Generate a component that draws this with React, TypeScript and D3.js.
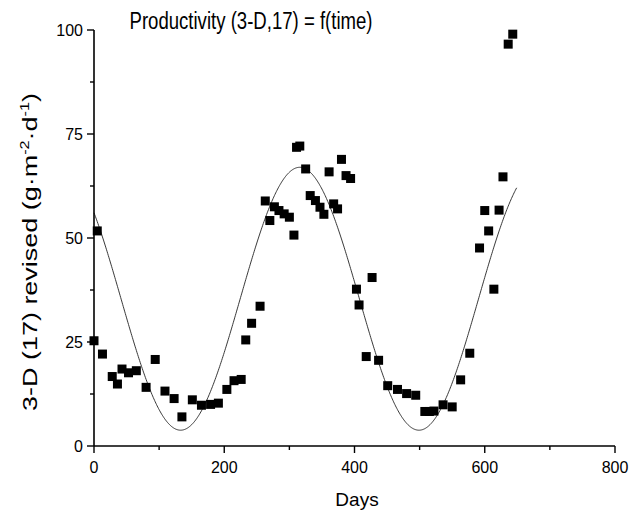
import React from "react";
import * as d3 from "d3";

const days = [0, 5, 13, 28, 36, 43, 53, 65, 80, 94, 109, 123, 135, 151, 165, 179, 191, 204, 215, 226, 233, 242, 255, 263, 270, 277, 284, 292, 300, 307, 311, 316, 325, 332, 340, 347, 353, 361, 368, 374, 380, 387, 394, 403, 407, 418, 427, 437, 451, 466, 480, 494, 508, 515, 522, 536, 550, 563, 577, 592, 600, 606, 614, 622, 628, 636, 643];
const values = [25.3, 51.7, 22.1, 16.7, 14.9, 18.5, 17.6, 18.1, 14.1, 20.8, 13.2, 11.4, 7.0, 11.1, 9.8, 10.0, 10.3, 13.6, 15.7, 16.0, 25.5, 29.5, 33.6, 58.9, 54.2, 57.5, 56.6, 55.8, 55.0, 50.7, 71.8, 72.1, 66.6, 60.2, 59.0, 57.4, 55.7, 65.9, 58.2, 57.0, 68.9, 65.0, 64.3, 37.7, 33.9, 21.5, 40.5, 20.6, 14.5, 13.6, 12.6, 12.2, 8.3, 8.3, 8.4, 9.9, 9.4, 15.9, 22.3, 47.6, 56.6, 51.7, 37.7, 56.7, 64.7, 96.6, 99.0];

// sinusoidal fit f(time), parameters
const FIT_MEAN = 35.4;
const FIT_AMP = 31.6;
const FIT_PERIOD = 366;
const FIT_PEAK_DAY = 316;
const FIT_START = 0;
const FIT_END = 649;

const xTicks = [0, 200, 400, 600, 800];
const xMinorTicks = [100, 300, 500, 700];
const yTicks = [0, 25, 50, 75, 100];
const yMinorTicks = [12.5, 37.5, 62.5, 87.5];

const TITLE = "Productivity (3-D,17) = f(time)";
const X_LABEL = "Days";

export default function App() {
  const W = 641, H = 513;
  const x = d3.scaleLinear().domain([0, 800]).range([94, 615]);
  const y = d3.scaleLinear().domain([0, 100]).range([446, 30]);
  const font = "'Liberation Sans', Arial, Helvetica, sans-serif";

  const fitDays = d3.range(FIT_START, FIT_END + 0.5, 1);
  const fitLine = d3
    .line<number>()
    .x((d) => x(d))
    .y((d) => y(FIT_MEAN + FIT_AMP * Math.cos((2 * Math.PI * (d - FIT_PEAK_DAY)) / FIT_PERIOD)));

  const pts = days.map((d, i) => ({ d, v: values[i] }));
  const S = 9;

  return (
    <svg width={W} height={H} style={{ position: "absolute", left: 0, top: 0, background: "#fff" }} fontFamily={font}>
      <rect x={0} y={0} width={W} height={H} fill="#fff" />
      <text x={251} y={29} fontSize={23} textAnchor="middle" fill="#000" textLength={243} lengthAdjust="spacingAndGlyphs">{TITLE}</text>

      <path d={fitLine(fitDays) || ""} fill="none" stroke="#222" strokeWidth={0.9} />

      {pts.map((p, i) => (
        <rect key={i} x={x(p.d) - S / 2} y={y(p.v) - S / 2} width={S} height={S} fill="#000" />
      ))}

      {/* axes */}
      <line x1={x(0)} x2={x(0)} y1={y(0)} y2={y(100)} stroke="#000" strokeWidth={1.6} />
      <line x1={x(0)} x2={x(800)} y1={y(0)} y2={y(0)} stroke="#000" strokeWidth={1.6} />
      {yTicks.map((t) => (
        <g key={"y" + t}>
          <line x1={x(0) - 7} x2={x(0)} y1={y(t)} y2={y(t)} stroke="#000" strokeWidth={1.4} />
          <text x={x(0) - 11} y={y(t) + 5.5} fontSize={16} textAnchor="end">{t}</text>
        </g>
      ))}
      {yMinorTicks.map((t) => (
        <line key={"ym" + t} x1={x(0) - 4} x2={x(0)} y1={y(t)} y2={y(t)} stroke="#000" strokeWidth={1.4} />
      ))}
      {xTicks.map((t) => (
        <g key={"x" + t}>
          <line x1={x(t)} x2={x(t)} y1={y(0)} y2={y(0) + 7} stroke="#000" strokeWidth={1.4} />
          <text x={x(t)} y={y(0) + 27} fontSize={16} textAnchor="middle">{t}</text>
        </g>
      ))}
      {xMinorTicks.map((t) => (
        <line key={"xm" + t} x1={x(t)} x2={x(t)} y1={y(0)} y2={y(0) + 4} stroke="#000" strokeWidth={1.4} />
      ))}

      <text x={357} y={506} fontSize={19} textAnchor="middle">{X_LABEL}</text>
      <g transform="translate(37,252) rotate(-90)">
        <text x={0} y={0} fontSize={20} textAnchor="middle" textLength={318} lengthAdjust="spacingAndGlyphs">
          3-D (17) revised (g·m
          <tspan fontSize={12} dy={-8}>-2</tspan>
          <tspan dy={8}>·d</tspan>
          <tspan fontSize={12} dy={-8}>-1</tspan>
          <tspan dy={8}>)</tspan>
        </text>
      </g>
    </svg>
  );
}
